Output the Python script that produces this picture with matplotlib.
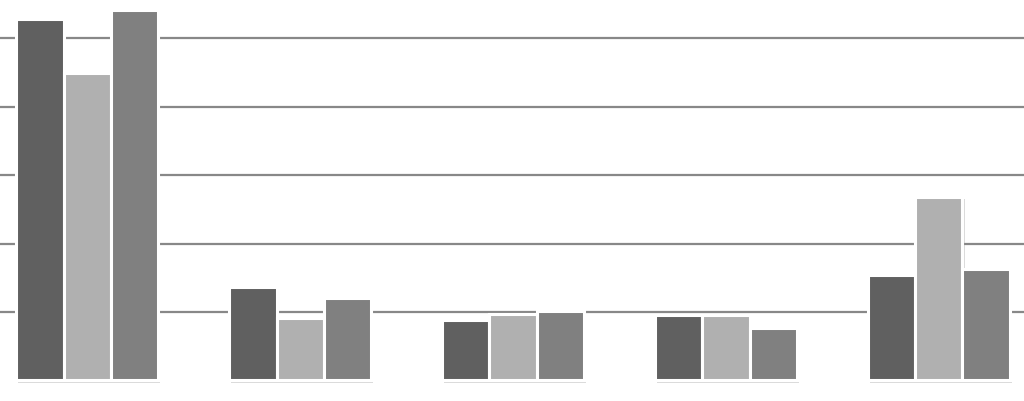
import matplotlib
matplotlib.use("Agg")
import matplotlib.pyplot as plt
import matplotlib.patheffects as pe
import numpy as np

categories = ["A", "B", "C", "D", "E"]
series1 = [5.28, 1.37, 0.89, 0.95, 1.54]
series2 = [4.50, 0.92, 0.97, 0.96, 2.68]
series3 = [5.42, 1.21, 1.01, 0.76, 1.63]
colors = ["#606060", "#b0b0b0", "#808080"]

fig = plt.figure(figsize=(10.24, 4.02), dpi=100)
ax = fig.add_axes([0, 0, 1, 1])

x = np.arange(len(categories))
w = 0.222
shadow = [pe.SimplePatchShadow(offset=(1.5, -1.5), shadow_rgbFace="#999999", alpha=0.35), pe.Normal()]
for i, (vals, c) in enumerate(zip([series1, series2, series3], colors)):
    bars = ax.bar(x + (i - 1) * w, vals, width=w, color=c, edgecolor="white",
                  linewidth=2.2, zorder=3)
    for b in bars:
        b.set_path_effects(shadow)

for yv in [1, 2, 3, 4, 5]:
    ax.axhline(yv, color="#888888", lw=1.6, zorder=1)

ax.set_xlim(-0.41, 4.40)
ax.set_ylim(-0.30, 5.575)
ax.axis("off")
fig.savefig("out.png", dpi=100, facecolor="white")
